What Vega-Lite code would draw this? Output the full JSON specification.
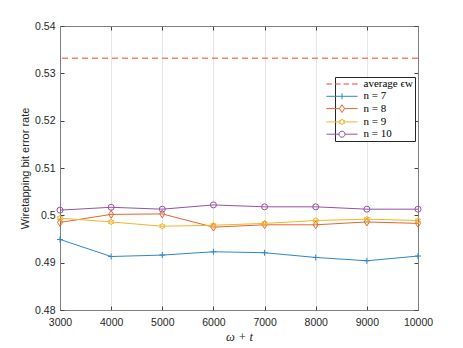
{
  "$schema": "https://vega.github.io/schema/vega-lite/v6.json",
  "width": 358,
  "height": 284,
  "autosize": {"type": "none"},
  "padding": {"left": 60, "top": 26, "right": 45, "bottom": 38},
  "background": "white",
  "config": {
    "view": {"stroke": "#7f7f7f", "strokeWidth": 1},
    "axis": {
      "labelFont": "Liberation Sans",
      "labelFontSize": 10.5,
      "labelColor": "#262626",
      "labelFlush": false,
      "titleFont": "Liberation Sans",
      "titleFontSize": 11,
      "titleFontWeight": "normal",
      "titleColor": "#262626",
      "domainColor": "#7f7f7f",
      "tickColor": "#444444",
      "tickWidth": 1,
      "tickSize": -4,
      "gridColor": "#e6e6e6",
      "gridWidth": 1
    }
  },
  "datasets": {
    "avg": [{"s": "average ϵw", "y": 0.5332}],
    "series": [
      {"x": 3000, "s": "n = 7", "y": 0.4949},
      {"x": 4000, "s": "n = 7", "y": 0.4913},
      {"x": 5000, "s": "n = 7", "y": 0.4916},
      {"x": 6000, "s": "n = 7", "y": 0.4923},
      {"x": 7000, "s": "n = 7", "y": 0.4921},
      {"x": 8000, "s": "n = 7", "y": 0.4911},
      {"x": 9000, "s": "n = 7", "y": 0.4904},
      {"x": 10000, "s": "n = 7", "y": 0.4914},
      {"x": 3000, "s": "n = 8", "y": 0.4985},
      {"x": 4000, "s": "n = 8", "y": 0.5002},
      {"x": 5000, "s": "n = 8", "y": 0.5003},
      {"x": 6000, "s": "n = 8", "y": 0.4975},
      {"x": 7000, "s": "n = 8", "y": 0.4980},
      {"x": 8000, "s": "n = 8", "y": 0.4980},
      {"x": 9000, "s": "n = 8", "y": 0.4986},
      {"x": 10000, "s": "n = 8", "y": 0.4983},
      {"x": 3000, "s": "n = 9", "y": 0.4994},
      {"x": 4000, "s": "n = 9", "y": 0.4986},
      {"x": 5000, "s": "n = 9", "y": 0.4977},
      {"x": 6000, "s": "n = 9", "y": 0.4979},
      {"x": 7000, "s": "n = 9", "y": 0.4983},
      {"x": 8000, "s": "n = 9", "y": 0.4989},
      {"x": 9000, "s": "n = 9", "y": 0.4992},
      {"x": 10000, "s": "n = 9", "y": 0.4989},
      {"x": 3000, "s": "n = 10", "y": 0.5011},
      {"x": 4000, "s": "n = 10", "y": 0.5017},
      {"x": 5000, "s": "n = 10", "y": 0.5013},
      {"x": 6000, "s": "n = 10", "y": 0.5022},
      {"x": 7000, "s": "n = 10", "y": 0.5018},
      {"x": 8000, "s": "n = 10", "y": 0.5018},
      {"x": 9000, "s": "n = 10", "y": 0.5013},
      {"x": 10000, "s": "n = 10", "y": 0.5013}
    ],
    "legend": [
      {"s": "average ϵw"},
      {"s": "n = 7"},
      {"s": "n = 8"},
      {"s": "n = 9"},
      {"s": "n = 10"}
    ]
  },
  "resolve": {
    "axis": {"x": "independent", "y": "independent"}
  },
  "layer": [
    {
      "data": {"name": "avg"},
      "mark": {"type": "rule", "strokeWidth": 1, "strokeDash": [6, 4], "color": "#ff3b3b"},
      "encoding": {
        "y": {"field": "y", "type": "quantitative", "scale": {"domain": [0.48, 0.54], "nice": false, "zero": false}, "axis": null}
      }
    },
    {
      "data": {"name": "series"},
      "transform": [{"filter": "datum.s == 'n = 7'"}],
      "mark": {"type": "line", "strokeWidth": 1, "color": "#2f87c9",
        "point": {"filled": false, "size": 36, "strokeWidth": 1, "color": "#2f87c9", "shape": "M-1,0H1M0,-1V1"}},
      "encoding": {
        "x": {
          "field": "x", "type": "quantitative",
          "scale": {"domain": [3000, 10000], "nice": false, "zero": false},
          "axis": {"values": [3000, 4000, 5000, 6000, 7000, 8000, 9000, 10000], "format": "d", "labelPadding": 11,
            "title": "ω + t", "titleFont": "Liberation Serif", "titleFontStyle": "italic", "titleFontSize": 12.5, "titlePadding": 3, "titleColor": "#262626"}
        },
        "y": {
          "field": "y", "type": "quantitative",
          "scale": {"domain": [0.48, 0.54], "nice": false, "zero": false},
          "axis": {"values": [0.48, 0.49, 0.5, 0.51, 0.52, 0.53, 0.54], "format": ".2~f", "labelPadding": 9,
            "title": "Wiretapping bit error rate", "titlePadding": 4}
        }
      }
    },
    {
      "data": {"name": "series"},
      "transform": [{"filter": "datum.s == 'n = 8'"}],
      "mark": {"type": "line", "strokeWidth": 1, "color": "#e0672f",
        "point": {"filled": false, "size": 36, "strokeWidth": 1, "color": "#e0672f", "shape": "M0,-1.3L0.85,0L0,1.3L-0.85,0Z"}},
      "encoding": {
        "x": {"field": "x", "type": "quantitative", "axis": {"orient": "top", "labels": false, "grid": false, "title": null, "values": [3000, 4000, 5000, 6000, 7000, 8000, 9000, 10000]}},
        "y": {"field": "y", "type": "quantitative", "axis": {"orient": "right", "labels": false, "grid": false, "title": null, "values": [0.48, 0.49, 0.5, 0.51, 0.52, 0.53, 0.54]}}
      }
    },
    {
      "data": {"name": "series"},
      "transform": [{"filter": "datum.s == 'n = 9'"}],
      "mark": {"type": "line", "strokeWidth": 1, "color": "#f0b52b",
        "point": {"filled": false, "size": 36, "strokeWidth": 1, "color": "#f0b52b", "shape": "M0,-1L0.289,-0.5L0.866,-0.5L0.577,0L0.866,0.5L0.289,0.5L0,1L-0.289,0.5L-0.866,0.5L-0.577,0L-0.866,-0.5L-0.289,-0.5Z"}},
      "encoding": {
        "x": {"field": "x", "type": "quantitative", "axis": null},
        "y": {"field": "y", "type": "quantitative", "axis": null}
      }
    },
    {
      "data": {"name": "series"},
      "transform": [{"filter": "datum.s == 'n = 10'"}],
      "mark": {"type": "line", "strokeWidth": 1, "color": "#9453a3",
        "point": {"filled": false, "size": 36, "strokeWidth": 1, "color": "#9453a3", "shape": "circle"}},
      "encoding": {
        "x": {"field": "x", "type": "quantitative", "axis": null},
        "y": {"field": "y", "type": "quantitative", "axis": null}
      }
    },
    {
      "data": {"name": "legend"},
      "mark": {"type": "point", "filled": false, "size": 36, "strokeWidth": 1, "opacity": 0},
      "encoding": {
        "color": {
          "field": "s", "type": "nominal",
          "scale": {"domain": ["average ϵw", "n = 7", "n = 8", "n = 9", "n = 10"], "range": ["#ff3b3b", "#2f87c9", "#e0672f", "#f0b52b", "#9453a3"]},
          "legend": {
            "title": null, "orient": "none", "legendX": 275, "legendY": 51,
            "fillColor": "white", "strokeColor": "#262626", "padding": 1.5,
            "labelFont": "Liberation Serif", "labelFontSize": 11, "labelColor": "#000000",
            "labelOffset": 16, "symbolSize": 36, "symbolStrokeWidth": 1, "rowPadding": 0.3,
            "encode": {"symbols": {"update": {"opacity": {"value": 1}, "fill": {"value": "transparent"}, "strokeWidth": {"value": 1}}}}
          }
        },
        "shape": {
          "field": "s", "type": "nominal",
          "scale": {"domain": ["average ϵw", "n = 7", "n = 8", "n = 9", "n = 10"],
            "range": [
              "M-5.2,0H-3.35M-2.35,0H-0.5M0.5,0H2.35M3.35,0H5.2",
              "M-5.2,0H5.2M0,-1V1",
              "M-5.2,0H-0.85L0,-1.3L0.85,0L0,1.3L-0.85,0M0.85,0H5.2",
              "M-5.2,0H-0.577M0.577,0H5.2M0,-1L0.289,-0.5L0.866,-0.5L0.577,0L0.866,0.5L0.289,0.5L0,1L-0.289,0.5L-0.866,0.5L-0.577,0L-0.866,-0.5L-0.289,-0.5Z",
              "M-5.2,0H-1A1,1 0 1,1 1,0A1,1 0 1,1 -1,0M1,0H5.2"
            ]},
          "legend": {
            "title": null, "orient": "none", "legendX": 275, "legendY": 51,
            "fillColor": "white", "strokeColor": "#262626", "padding": 1.5,
            "labelFont": "Liberation Serif", "labelFontSize": 11, "labelColor": "#000000",
            "labelOffset": 16, "symbolSize": 36, "symbolStrokeWidth": 1, "rowPadding": 0.3,
            "encode": {"symbols": {"update": {"opacity": {"value": 1}, "fill": {"value": "transparent"}, "strokeWidth": {"value": 1}}}}
          }
        }
      }
    }
  ]
}
